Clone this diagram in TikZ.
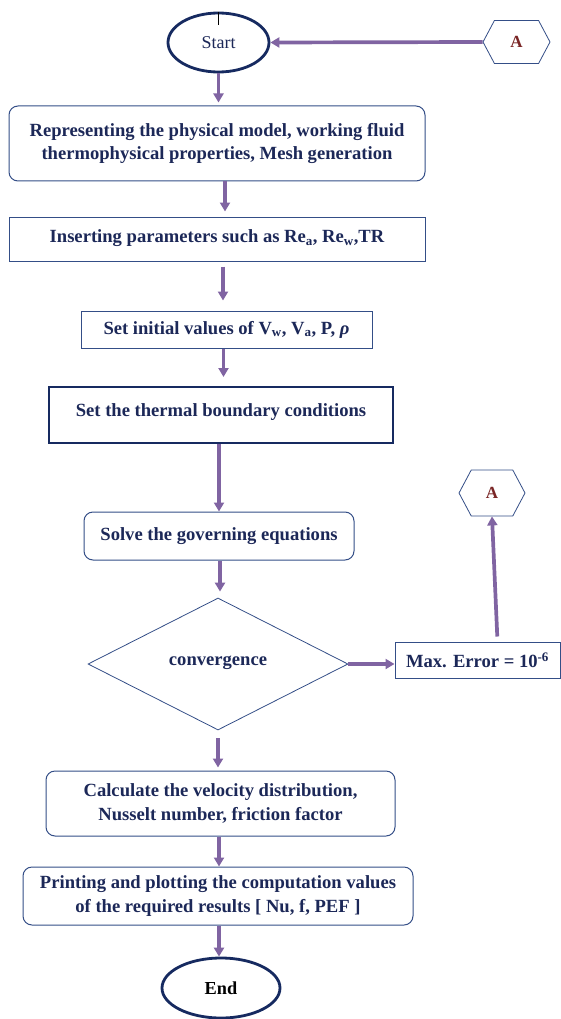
\documentclass[tikz,border=0pt]{standalone}
\usepackage{fontspec}
\setmainfont{Liberation Serif}
\usetikzlibrary{arrows.meta, positioning, shapes.geometric, shapes.symbols, calc}
\definecolor{mynavy}{RGB}{22,42,96}
\definecolor{myframe}{RGB}{52,78,135}
\definecolor{mytext}{RGB}{28,40,88}
\definecolor{mypurple}{RGB}{128,100,162}
\definecolor{mymaroon}{RGB}{122,38,38}

\begin{document}
\begin{tikzpicture}[x=1pt, y=-1pt,
    box/.style={draw=myframe, line width=1pt, fill=white, text=mytext, font=\fontsize{18.6}{23.5}\selectfont\bfseries, align=center, inner sep=0pt},
    rbox/.style={box, rounded corners=9pt},
    term/.style={ellipse, draw=mynavy, line width=2.8pt, fill=white, text=mytext, inner sep=0pt},
    conn/.style={signal, signal to=east and west, signal pointer angle=124, draw=myframe, line width=0.8pt, fill=white, text=mymaroon, font=\fontsize{17}{19}\selectfont\bfseries, inner sep=0pt},
    flow/.style={-{Triangle[length=9pt,width=10pt]}, draw=mypurple, line width=3.7pt}]
    \useasboundingbox (0,0) rectangle (561,1019);

    % Start and connector A
    \node[term, minimum width=101pt, minimum height=59pt, font=\fontsize{18}{20}\selectfont] (start) at (218.5,42.5) {Start};
    \draw[black, line width=0.6pt] (start.north) -- ++(0,13);
    \node[conn, minimum width=67pt, minimum height=43pt] (a1) at (516.5,42) {A};

    % Main steps
    \node[rbox, minimum width=416pt, minimum height=75pt] (b1) at (217,143.5) {Representing the physical model, working fluid\\thermophysical properties, Mesh generation};
    \node[box, minimum width=416pt, minimum height=44pt] (b2) at (217,239) {\raisebox{5pt}{Inserting parameters such as Re\textsubscript{a}, Re\textsubscript{w},TR}};
    \node[box, minimum width=291pt, minimum height=37pt] (b3) at (226.5,329.5) {Set initial values of V\textsubscript{w}, V\textsubscript{a}, P, {\itshape ρ}};
    \node[box, draw=mynavy, line width=2pt, minimum width=344pt, minimum height=56pt] (b4) at (221,415) {\raisebox{9pt}{Set the thermal boundary conditions}};
    \node[rbox, minimum width=270pt, minimum height=48pt] (b5) at (219,536) {Solve the governing equations};

    % Convergence check
    \node[diamond, draw=myframe, line width=0.8pt, text=mytext, font=\fontsize{18.6}{20}\selectfont\bfseries, minimum width=260pt, minimum height=132pt, inner sep=0pt] (conv) at (218,664) {\raisebox{7pt}{convergence}};
    \node[box, minimum width=165pt, minimum height=36pt] (maxerr) at (477.5,660) {Max. Error = 10\textsuperscript{-6}};
    \node[conn, minimum width=66pt, minimum height=46pt] (a2) at (492,493) {A};

    % Results
    \node[rbox, minimum width=349pt, minimum height=65pt] (b6) at (220.5,803.5) {Calculate the velocity distribution,\\Nusselt number, friction factor};
    \node[rbox, minimum width=390pt, minimum height=58pt] (b7) at (218,896) {Printing and plotting the computation values\\of the required results [ Nu, f, PEF ]};
    \node[term, minimum width=118pt, minimum height=60pt, text=black, font=\fontsize{18.3}{20}\selectfont\bfseries] (end) at (221,988) {End};

    % Arrows
    \draw[flow] (a1.west) -- (start.east);
    \draw[flow, shorten >=3pt] (start.south) -- (start.south |- b1.north);
    \draw[flow, shorten >=5pt] ([xshift=8pt]b1.south) -- ([xshift=8pt]b1.south |- b2.north);
    \draw[flow, shorten <=5pt, shorten >=10pt] ([xshift=6pt]b2.south) -- ([xshift=6pt]b2.south |- b3.north);
    \draw[flow, shorten >=9pt] ([xshift=-3pt]b3.south) -- ([xshift=-3pt]b3.south |- b4.north);
    \draw[flow] ([xshift=-2pt]b4.south) -- ([xshift=-2pt]b4.south |- b5.north);
    \draw[flow, shorten >=6pt] ([xshift=1pt]b5.south) -- ([xshift=1pt]b5.south |- conv.north);
    \draw[flow] (conv.east) -- (conv.east -| maxerr.west);
    \draw[flow, shorten <=5pt] ([xshift=20pt]maxerr.north) -- (a2.south);
    \draw[flow, shorten <=8pt, shorten >=3pt] (conv.south) -- (conv.south |- b6.north);
    \draw[flow] ([xshift=-1.5pt]b6.south) -- ([xshift=-1.5pt]b6.south |- b7.north);
    \draw[flow] ([xshift=1pt]b7.south) -- ([xshift=1pt]b7.south |- end.north);
\end{tikzpicture}
\end{document}
